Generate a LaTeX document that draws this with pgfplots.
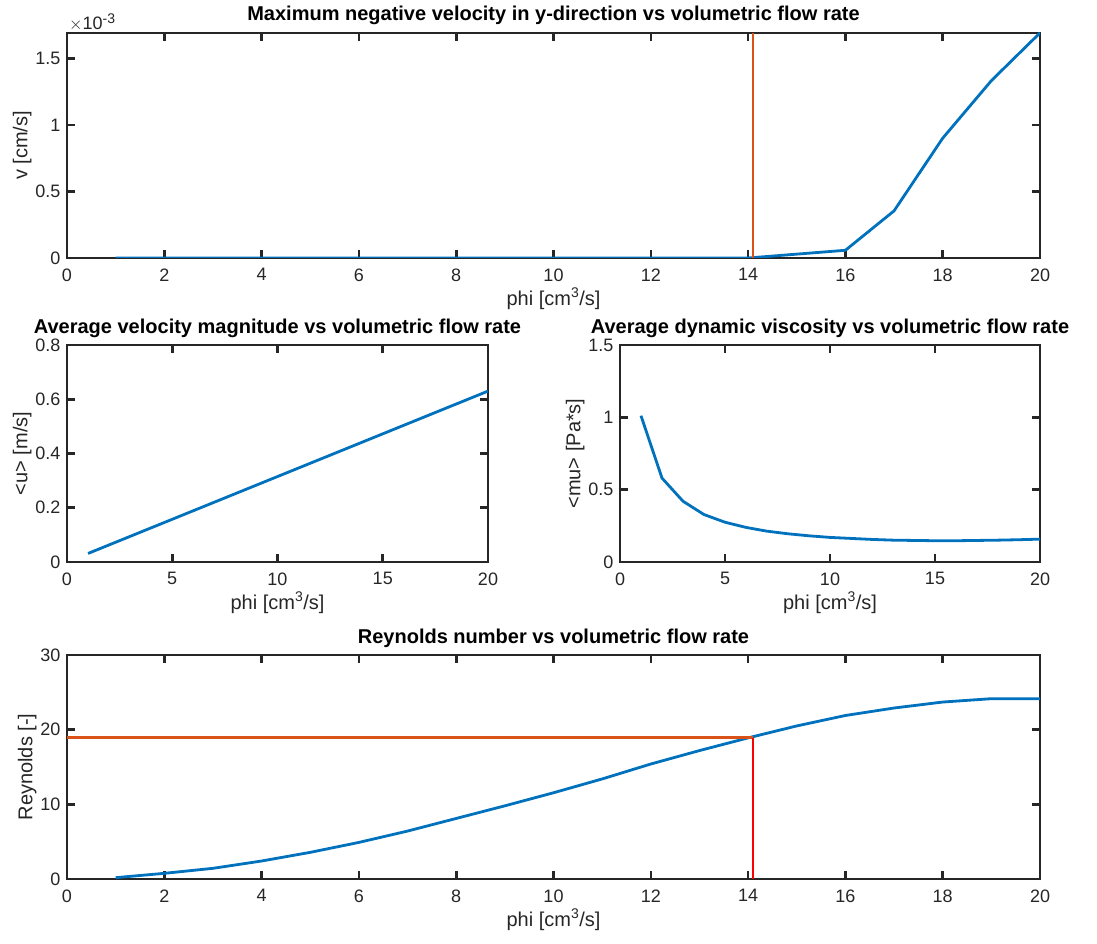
\documentclass[border=0pt]{standalone}
\usepackage{pgfplots}
\pgfplotsset{compat=1.18}
\usepackage{fontspec}
\setmainfont{Liberation Sans}
\definecolor{mblue}{rgb}{0,0.447,0.741}
\definecolor{morange}{rgb}{0.85,0.325,0.098}
\definecolor{maxis}{rgb}{0.15,0.15,0.15}
\pgfplotsset{mstyle/.style={
  scale only axis, anchor=south west,
  axis line style={maxis, line width=2.6pt},
  every tick/.style={maxis, line width=2.6pt},
  major tick length=8pt, tick align=inside,
  tick label style={font=\fontsize{18}{21}\selectfont, text=maxis},
  xticklabel style={yshift=-7pt},
  yticklabel style={xshift=-3pt},
  label style={font=\fontsize{20}{23}\selectfont, text=maxis},
  ylabel style={yshift=-3pt},
  title style={font=\fontsize{20}{23}\selectfont\bfseries, text=black, yshift=-2pt},
  /pgf/number format/assume math mode=true,
  scaled ticks=false, clip mode=individual,
  xmin=0, xmax=20,
}}
\begin{document}
\begin{tikzpicture}
\useasboundingbox (0pt,0pt) rectangle (1097pt,943pt);
% top
\begin{axis}[mstyle, name=topax, at={(67pt,685pt)}, width=973pt, height=225pt,
  ymin=0, ymax=1.69, xtick={0,2,...,20}, ytick={0,0.5,1,1.5},
  title style={yshift=1pt},
  title={Maximum negative velocity in y-direction vs volumetric flow rate},
  xlabel={phi [cm\textsuperscript{3}/s]}, ylabel={v [cm/s]}]
\addplot[mblue, line width=2.8pt] coordinates {
(1,0)(2,0)(3,0)(4,0)(5,0)(6,0)(7,0)(8,0)(9,0)(10,0)(11,0)(12,0)(13,0)(14,0)
(15,0.029)(16,0.058)(17,0.354)(18,0.900)(19,1.332)(20,1.691)};
\addplot[morange, line width=2.8pt] coordinates {(14.1,0)(14.1,1.69)};
\end{axis}
\node[anchor=base west, inner sep=0pt, xshift=2pt, yshift=3pt, text=maxis, font=\fontsize{18}{21}\selectfont] at (topax.north west) {$\times$10\raisebox{6.5pt}{\fontsize{14}{16}\selectfont -3}};
% middle left
\begin{axis}[mstyle, at={(67pt,381pt)}, width=421pt, height=217pt,
  ymin=0, ymax=0.8, xtick={0,5,...,20}, ytick={0,0.2,0.4,0.6,0.8},
  yticklabels={0,0.2,0.4,0.6,0.8},
  title={Average velocity magnitude vs volumetric flow rate},
  xlabel={phi [cm\textsuperscript{3}/s]}, ylabel={<u> [m/s]}]
\addplot[mblue, line width=2.8pt] coordinates {
(1,0.0315)(2,0.063)(3,0.0945)(4,0.126)(5,0.1575)(6,0.189)(7,0.2205)(8,0.252)(9,0.2835)(10,0.315)
(11,0.3465)(12,0.378)(13,0.4095)(14,0.441)(15,0.4725)(16,0.504)(17,0.5355)(18,0.567)(19,0.5985)(20,0.63)};
\end{axis}
% middle right
\begin{axis}[mstyle, at={(620pt,381pt)}, width=420pt, height=217pt,
  ymin=0, ymax=1.5, xtick={0,5,...,20}, ytick={0,0.5,1,1.5},
  title={Average dynamic viscosity vs volumetric flow rate},
  xlabel={phi [cm\textsuperscript{3}/s]}, ylabel={<mu> [Pa*s]}]
\addplot[mblue, line width=2.8pt] coordinates {
(1,1.011)(2,0.580)(3,0.420)(4,0.328)(5,0.275)(6,0.239)(7,0.213)(8,0.195)(9,0.181)(10,0.170)
(11,0.163)(12,0.156)(13,0.151)(14,0.149)(15,0.147)(16,0.147)(17,0.149)(18,0.151)(19,0.154)(20,0.158)};
\end{axis}
% bottom
\begin{axis}[mstyle, at={(67pt,64pt)}, width=973pt, height=224pt,
  ymin=0, ymax=30, xtick={0,2,...,20}, ytick={0,10,20,30},
  title={Reynolds number vs volumetric flow rate},
  xlabel={phi [cm\textsuperscript{3}/s]}, ylabel={Reynolds [-]}]
\addplot[mblue, line width=2.8pt] coordinates {
(1,0.18)(2,0.76)(3,1.43)(4,2.41)(5,3.57)(6,4.9)(7,6.42)(8,8.11)(9,9.8)(10,11.55)
(11,13.4)(12,15.4)(13,17.2)(14,18.9)(15,20.5)(16,21.9)(17,22.9)(18,23.7)(19,24.15)(20,24.15)};
\addplot[morange, line width=2.8pt] coordinates {(0,18.95)(14.1,18.95)};
\addplot[red, line width=2.8pt] coordinates {(14.1,0)(14.1,18.95)};
\end{axis}
\end{tikzpicture}
\end{document}
